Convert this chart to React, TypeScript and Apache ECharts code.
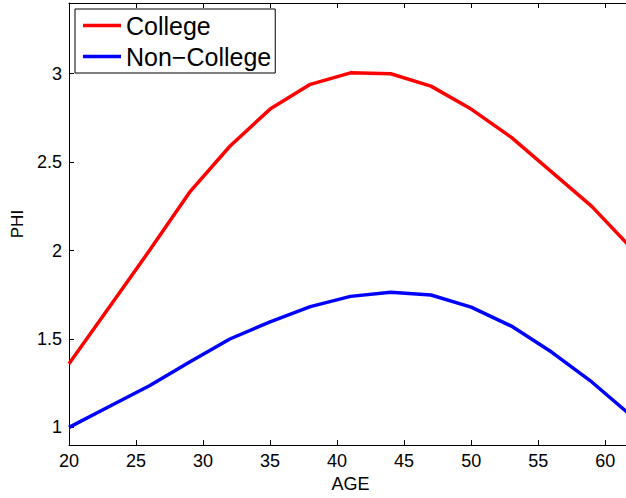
import React, { useEffect, useRef } from "react";
import * as echarts from "echarts";

const ages = [20, 23, 26, 29, 32, 35, 38, 41, 44, 47, 50, 53, 56, 59, 62];
const college = [1.36, 1.68, 2.0, 2.33, 2.59, 2.8, 2.94, 3.005, 3.0, 2.93, 2.8, 2.64, 2.445, 2.25, 2.01];
const nonCollege = [1.0, 1.118, 1.236, 1.37, 1.5, 1.597, 1.683, 1.741, 1.764, 1.749, 1.68, 1.573, 1.426, 1.257, 1.062];
const xTicks = [20, 25, 30, 35, 40, 45, 50, 55, 60];
const yTicks = [1, 1.5, 2, 2.5, 3];
const seriesNames = ["College", "Non\u2212College"];

const FONT = "'Liberation Sans', Arial, sans-serif";

export default function App() {
  const ref = useRef<HTMLDivElement>(null);
  useEffect(() => {
    if (!ref.current) return;
    const chart = echarts.init(ref.current, undefined, { renderer: "svg" });
    const axisLine = { show: true, lineStyle: { color: "#000", width: 1 } };
    chart.setOption({
      animation: false,
      backgroundColor: "#fff",
      textStyle: { fontFamily: FONT },
      grid: { left: 69, top: 3, right: 8, bottom: 51, containLabel: false },
      legend: {
        orient: "vertical",
        left: 75,
        top: 9,
        data: seriesNames,
        icon: "rect",
        itemWidth: 38,
        itemHeight: 3.5,
        itemGap: 6,
        padding: [4, 4, 4, 8],
        borderColor: "#000",
        borderWidth: 1,
        backgroundColor: "#fff",
        textStyle: { fontSize: 25, color: "#000", fontFamily: FONT },
      },
      xAxis: [
        {
          type: "value",
          min: 20,
          max: 62,
          position: "bottom",
          name: "AGE",
          nameLocation: "middle",
          nameGap: 26,
          nameTextStyle: { fontSize: 18, color: "#000", fontFamily: FONT },
          axisLine,
          axisTick: { show: true, inside: true, length: 5, customValues: xTicks, lineStyle: { color: "#000" } },
          axisLabel: { show: true, customValues: xTicks, fontSize: 18, color: "#000", margin: 7, fontFamily: FONT },
          splitLine: { show: false },
        },
        {
          type: "value",
          min: 20,
          max: 62,
          position: "top",
          axisLine,
          axisTick: { show: true, inside: true, length: 5, customValues: xTicks, lineStyle: { color: "#000" } },
          axisLabel: { show: false },
          splitLine: { show: false },
        },
      ],
      yAxis: [
        {
          type: "value",
          min: 0.9,
          max: 3.4,
          position: "left",
          name: "PHI",
          nameLocation: "middle",
          nameGap: 38,
          nameTextStyle: { fontSize: 17, color: "#000", fontFamily: FONT },
          axisLine,
          axisTick: { show: true, inside: true, length: 5, customValues: yTicks, lineStyle: { color: "#000" } },
          axisLabel: { show: true, customValues: yTicks, fontSize: 18, color: "#000", margin: 7, fontFamily: FONT },
          splitLine: { show: false },
        },
        {
          type: "value",
          min: 0.9,
          max: 3.4,
          position: "right",
          axisLine,
          axisTick: { show: true, inside: true, length: 5, customValues: yTicks, lineStyle: { color: "#000" } },
          axisLabel: { show: false },
          splitLine: { show: false },
        },
      ],
      series: [
        {
          name: seriesNames[0],
          type: "line",
          data: ages.map((a, i) => [a, college[i]]),
          symbol: "none",
          lineStyle: { color: "#ff0000", width: 3.5 },
          itemStyle: { color: "#ff0000" },
          clip: true,
        },
        {
          name: seriesNames[1],
          type: "line",
          data: ages.map((a, i) => [a, nonCollege[i]]),
          symbol: "none",
          lineStyle: { color: "#0000ff", width: 3.5 },
          itemStyle: { color: "#0000ff" },
          clip: true,
        },
      ],
    });
    return () => chart.dispose();
  }, []);
  return (
    <div style={{ position: "fixed", left: 0, top: 0, width: 626, height: 498, overflow: "hidden", background: "#fff" }}>
      <div ref={ref} style={{ width: 640, height: 498 }} />
    </div>
  );
}
